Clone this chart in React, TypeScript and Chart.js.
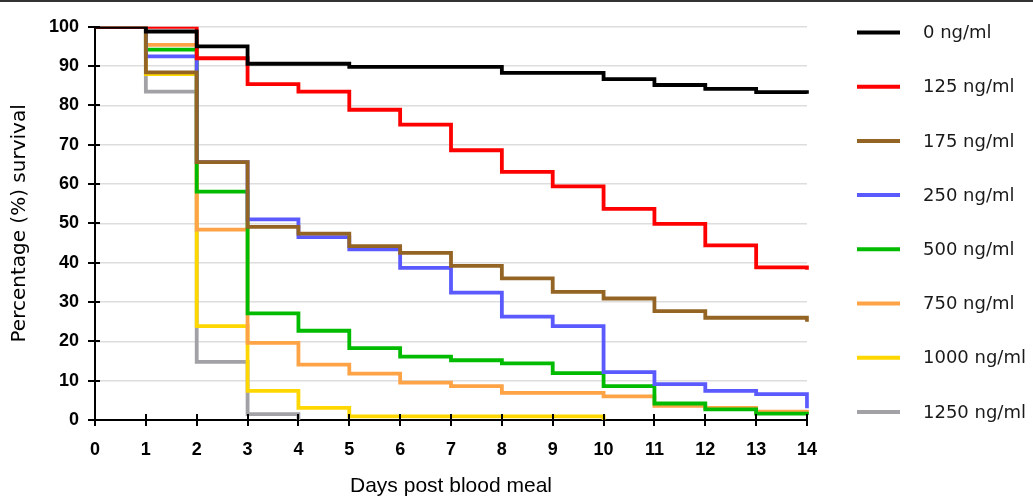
import React, { useEffect, useRef } from "react";
import { Chart, registerables } from "chart.js";

Chart.register(...registerables);

// ---------- data ----------
const days = ["0", "1", "2", "3", "4", "5", "6", "7", "8", "9", "10", "11", "12", "13", "14"];

const seriesNames = [
  "0 ng/ml",
  "125 ng/ml",
  "175 ng/ml",
  "250 ng/ml",
  "500 ng/ml",
  "750 ng/ml",
  "1000 ng/ml",
  "1250 ng/ml",
];

const survival0 = [100, 98.8, 95.0, 90.6, 90.6, 89.8, 89.8, 89.8, 88.3, 88.3, 86.7, 85.2, 84.2, 83.4, 83.0];
const survival125 = [100, 100, 92.0, 85.4, 83.5, 78.9, 75.1, 68.6, 63.1, 59.4, 53.7, 49.9, 44.4, 38.8, 38.2];
const survival175 = [100, 88.4, 65.6, 49.1, 47.4, 44.2, 42.5, 39.2, 36.0, 32.6, 30.9, 27.7, 26.0, 26.0, 25.0];
const survival250 = [100, 92.5, 65.6, 51.0, 46.5, 43.4, 38.7, 32.4, 26.3, 23.9, 12.2, 9.1, 7.4, 6.6, 3.0];
const survival500 = [100, 94.2, 58.1, 27.1, 22.7, 18.3, 16.1, 15.2, 14.4, 11.9, 8.6, 4.2, 2.7, 1.6, 1.3];
const survival750 = [100, 95.4, 48.4, 19.6, 14.1, 11.8, 9.5, 8.6, 6.9, 6.9, 6.0, 3.6, 3.1, 2.1, 1.8];
const survival1000 = [100, 88.0, 23.9, 7.4, 3.1, 0.9, 0.9, 0.9, 0.9, 0.9, 0];
const survival1250 = [100, 83.5, 14.8, 1.5, 0];

const seriesValues = [
  survival0,
  survival125,
  survival175,
  survival250,
  survival500,
  survival750,
  survival1000,
  survival1250,
];

const seriesColors = [
  "#000000",
  "#ff0000",
  "#946424",
  "#5a5aff",
  "#00bb00",
  "#ffa347",
  "#ffd700",
  "#a2a2a6",
];

const yMin = 0;
const yMax = 100;
const yStep = 10;

// ---------- plugins ----------
const frameAndTicks = {
  id: "frameAndTicks",
  beforeDraw(chart: any) {
    const { ctx, width } = chart;
    ctx.save();
    ctx.fillStyle = "#ffffff";
    ctx.fillRect(0, 0, width, chart.height);
    ctx.fillStyle = "#333333";
    ctx.fillRect(0, 0, width, 2);
    ctx.restore();
  },
  afterDraw(chart: any) {
    const { ctx, chartArea, scales } = chart;
    const xs = scales.x;
    const ys = scales.y;
    ctx.save();
    ctx.strokeStyle = "#000000";
    ctx.lineWidth = 2;
    ys.ticks.forEach((_t: any, i: number) => {
      const py = Math.round(ys.getPixelForTick(i));
      ctx.beginPath();
      ctx.moveTo(chartArea.left - 7, py);
      ctx.lineTo(chartArea.left + 5, py);
      ctx.stroke();
    });
    xs.ticks.forEach((_t: any, i: number) => {
      const px = Math.round(xs.getPixelForTick(i));
      ctx.beginPath();
      ctx.moveTo(px, chartArea.bottom - 6);
      ctx.lineTo(px, chartArea.bottom + 6);
      ctx.stroke();
    });
    ctx.restore();
  },
};

const sideLegend = {
  id: "sideLegend",
  afterDraw(chart: any) {
    const { ctx } = chart;
    ctx.save();
    ctx.font = '18px "DejaVu Sans", "Liberation Sans", sans-serif';
    ctx.textBaseline = "middle";
    ctx.textAlign = "left";
    chart.data.datasets.forEach((ds: any, i: number) => {
      const y = 32.5 + i * 54.2;
      ctx.strokeStyle = ds.borderColor;
      ctx.lineWidth = 4;
      ctx.beginPath();
      ctx.moveTo(857, y);
      ctx.lineTo(900, y);
      ctx.stroke();
      ctx.fillStyle = "#1a1a1a";
      ctx.fillText(ds.label, 923, y + 1);
    });
    ctx.restore();
  },
};

export default function App() {
  const canvasRef = useRef<HTMLCanvasElement | null>(null);

  useEffect(() => {
    if (!canvasRef.current) return;
    const chart = new Chart(canvasRef.current, {
      type: "line",
      data: {
        labels: days,
        datasets: seriesNames.map((name, i) => ({
          label: name,
          data: seriesValues[i],
          borderColor: seriesColors[i],
          backgroundColor: seriesColors[i],
          borderWidth: 3.8,
          stepped: "before" as const,
          pointRadius: 0,
          pointHoverRadius: 0,
          fill: false,
          spanGaps: false,
        })),
      },
      options: {
        animation: false,
        responsive: false,
        events: [],
        layout: { padding: { top: 26, right: 226, bottom: 0, left: 0 } },
        plugins: {
          legend: { display: false },
          tooltip: { enabled: false },
        },
        scales: {
          x: {
            type: "category",
            offset: false,
            grid: { display: false, drawTicks: false },
            border: { display: true, color: "#000000", width: 2 },
            ticks: {
              color: "#000000",
              padding: 19,
              maxRotation: 0,
              autoSkip: false,
              font: { family: '"Liberation Sans", Arial, sans-serif', size: 18, weight: "bold" },
            },
            title: {
              display: true,
              text: "Days post blood meal",
              color: "#000000",
              padding: { top: 0, bottom: 0 },
              font: { family: '"Liberation Sans", Arial, sans-serif', size: 21, lineHeight: 1 },
            },
            afterFit: (s: any) => {
              s.height = 77;
            },
          },
          y: {
            min: yMin,
            max: yMax,
            grid: { color: "#dddddd", lineWidth: 1.5, drawTicks: false },
            border: { display: true, color: "#000000", width: 2 },
            ticks: {
              stepSize: yStep,
              color: "#000000",
              padding: 16,
              font: { family: '"Liberation Sans", Arial, sans-serif', size: 18, weight: "bold" },
            },
            title: {
              display: true,
              text: "Percentage (%) survival",
              color: "#000000",
              padding: { top: 10, bottom: 0 },
              font: { family: '"DejaVu Sans", "Liberation Sans", sans-serif', size: 20, lineHeight: 1 },
            },
            afterFit: (s: any) => {
              s.width = 95;
            },
          },
        },
      },
      plugins: [frameAndTicks, sideLegend],
    });
    return () => chart.destroy();
  }, []);

  return (
    <div style={{ position: "fixed", left: 0, top: 0, width: 1033, height: 497, background: "#fff" }}>
      <canvas ref={canvasRef} width={1033} height={497} style={{ display: "block", width: 1033, height: 497 }} />
    </div>
  );
}
